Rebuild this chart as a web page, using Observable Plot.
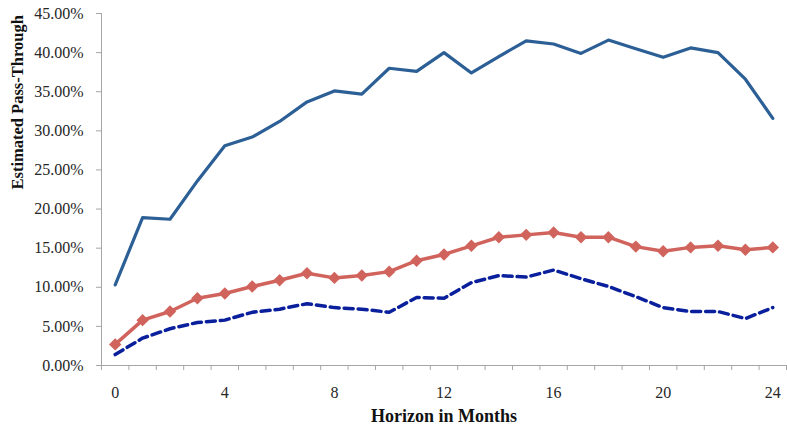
<!DOCTYPE html>
<html>
<head>
<meta charset="utf-8">
<script src="https://cdn.jsdelivr.net/npm/d3@7"></script>
<script src="https://cdn.jsdelivr.net/npm/@observablehq/plot@0.6"></script>
<style>
  html, body { margin: 0; padding: 0; background: #ffffff; }
  #chart svg { display: block; }
</style>
</head>
<body>
<div id="chart"></div>
<script>
// Horizon in months (categories)
const months = [0, 1, 2, 3, 4, 5, 6, 7, 8, 9, 10, 11, 12, 13, 14, 15, 16, 17, 18, 19, 20, 21, 22, 23, 24];
// Estimated pass-through (%)
const upperSeries = [10.3, 18.9, 18.7, 23.6, 28.1, 29.2, 31.2, 33.7, 35.1, 34.7, 38.0, 37.6, 40.0, 37.4, 39.5, 41.5, 41.1, 39.9, 41.6, 40.5, 39.4, 40.6, 40.0, 36.6, 31.6];
const middleSeries = [2.7, 5.8, 6.9, 8.6, 9.2, 10.1, 10.9, 11.8, 11.2, 11.5, 12.0, 13.4, 14.2, 15.3, 16.4, 16.7, 17.0, 16.4, 16.4, 15.2, 14.6, 15.1, 15.3, 14.8, 15.1];
const lowerSeries = [1.4, 3.5, 4.7, 5.5, 5.8, 6.8, 7.2, 7.9, 7.4, 7.2, 6.8, 8.7, 8.6, 10.6, 11.5, 11.3, 12.2, 11.1, 10.1, 8.8, 7.4, 6.9, 6.9, 6.0, 7.4];
// Tick labels
const xTickLabels = [0, 4, 8, 12, 16, 20, 24];
const yTickValues = [0, 5, 10, 15, 20, 25, 30, 35, 40, 45];
const yTitle = "Estimated Pass-Through";
const xTitle = "Horizon in Months";

const rows = months.map((m, i) => ({ m, upper: upperSeries[i], middle: middleSeries[i], lower: lowerSeries[i] }));
// category boundaries (Excel-style tick marks between categories)
const boundaries = months.map(m => m - 0.5).concat([months[months.length - 1] + 0.5]);

const axisGray = "#a6a6a6";
const textColor = "#262626";
const blue = "#2b5f95";
const red = "#d1635d";
const navy = "#0a1f9c";

const chart = Plot.plot({
  width: 787,
  height: 428,
  marginLeft: 101,
  marginRight: 1,
  marginTop: 13,
  marginBottom: 63,
  style: { fontFamily: "'Liberation Serif', serif", fontSize: "16px", background: "#ffffff", color: textColor },
  x: { domain: [boundaries[0], boundaries[boundaries.length - 1]] },
  y: { domain: [0, 45] },
  marks: [
    Plot.axisY({ ticks: yTickValues, tickFormat: d => d.toFixed(2) + "%", tickSize: 5, tickPadding: 13, stroke: axisGray, fill: textColor, label: null }),
    Plot.axisX({ ticks: boundaries, tickFormat: () => "", tickSize: 5, stroke: axisGray, label: null }),
    Plot.axisX({ ticks: xTickLabels, tickSize: 0, tickPadding: 21, fill: textColor, label: null }),
    Plot.ruleX([boundaries[0]], { stroke: axisGray }),
    Plot.ruleY([0], { stroke: axisGray }),
    Plot.line(rows, { x: "m", y: "upper", stroke: blue, strokeWidth: 3.2 }),
    Plot.line(rows, { x: "m", y: "lower", stroke: navy, strokeWidth: 3.5, strokeDasharray: "9,5" }),
    Plot.line(rows, { x: "m", y: "middle", stroke: red, strokeWidth: 3.5 }),
    Plot.dot(rows, { x: "m", y: "middle", symbol: "diamond2", r: 5.6, fill: red, stroke: null }),
    Plot.text([yTitle], { text: d => d, frameAnchor: "left", dx: -84, rotate: -90, fontWeight: "bold", fontSize: 16.5, fill: "#111" }),
    Plot.text([xTitle], { text: d => d, frameAnchor: "bottom", dy: 56, fontWeight: "bold", fontSize: 18, fill: "#111" })
  ]
});
document.getElementById("chart").appendChild(chart);
</script>
</body>
</html>
